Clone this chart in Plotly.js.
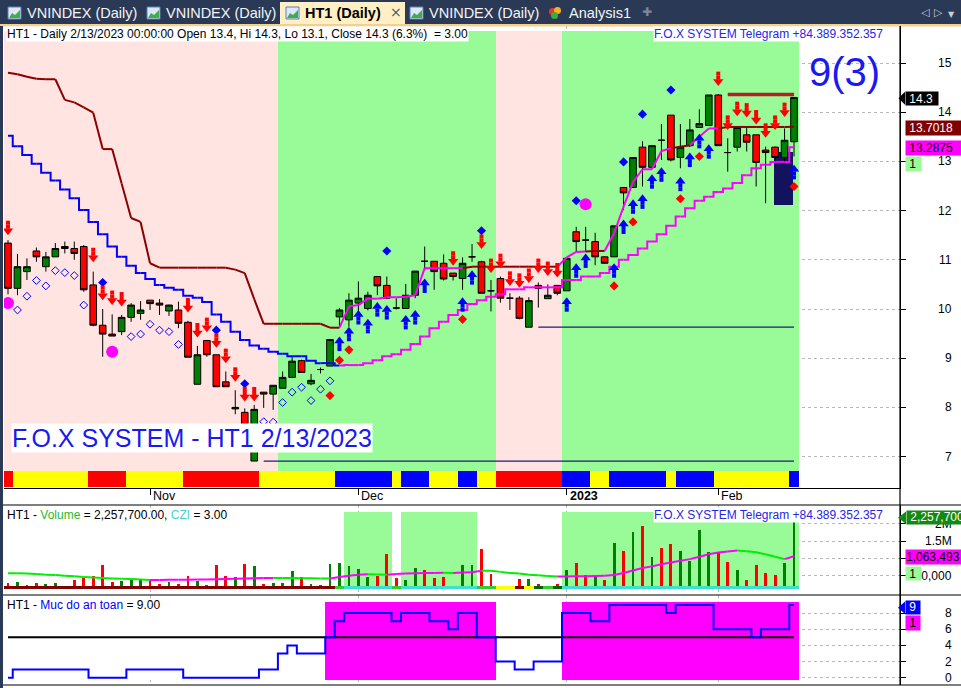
<!DOCTYPE html>
<html>
<head>
<meta charset="utf-8">
<script src="https://cdn.plot.ly/plotly-3.0.1.min.js"></script>
<style>
html,body{margin:0;padding:0;background:#fff;overflow:hidden;}
#chart{width:961px;height:688px;}
</style>
</head>
<body>
<div id="chart"></div>
<script>
// ================= DATA =================
const dates = ['2022-10-11','2022-10-12','2022-10-13','2022-10-14','2022-10-17','2022-10-18','2022-10-19','2022-10-20','2022-10-21','2022-10-24','2022-10-25','2022-10-26','2022-10-27','2022-10-28','2022-10-31',
'2022-11-01','2022-11-02','2022-11-03','2022-11-04','2022-11-07','2022-11-08','2022-11-09','2022-11-10','2022-11-11','2022-11-14','2022-11-15','2022-11-16','2022-11-17','2022-11-18','2022-11-21','2022-11-22','2022-11-23','2022-11-24','2022-11-25','2022-11-28','2022-11-29','2022-11-30',
'2022-12-01','2022-12-02','2022-12-05','2022-12-06','2022-12-07','2022-12-08','2022-12-09','2022-12-12','2022-12-13','2022-12-14','2022-12-15','2022-12-16','2022-12-19','2022-12-20','2022-12-21','2022-12-22','2022-12-23','2022-12-26','2022-12-27','2022-12-28','2022-12-29','2022-12-30',
'2023-01-03','2023-01-04','2023-01-05','2023-01-06','2023-01-09','2023-01-10','2023-01-11','2023-01-12','2023-01-13','2023-01-16','2023-01-17','2023-01-18','2023-01-19','2023-01-27','2023-01-30','2023-01-31',
'2023-02-01','2023-02-02','2023-02-03','2023-02-06','2023-02-07','2023-02-08','2023-02-09','2023-02-10','2023-02-13'];

const openP = [11.34,10.42,10.76,11.18,10.86,11.06,11.27,11.23,11.27,10.49,
9.67,9.49,9.54,9.83,9.91,10.18,10.12,9.96,9.98,9.73,
8.47,9.36,9.07,8.52,7.97,7.90,6.91,8.31,8.27,8.39,
8.61,8.95,8.48,8.77,8.84,9.84,9.78,10.12,10.01,10.66,
10.48,10.02,10.01,10.28,10.97,10.97,10.93,10.73,10.62,11.06,
10.96,10.37,10.62,10.22,10.22,9.63,10.48,10.21,10.48,10.37,
11.57,11.40,11.37,11.06,11.06,12.47,12.47,13.29,12.88,13.43,
13.94,13.08,13.32,13.69,13.73,14.35,13.18,13.29,13.54,13.54,
13.23,13.29,13.08,13.40];
const highP = [11.40,11.12,11.03,11.25,11.16,11.34,11.37,11.37,11.30,10.76,
10.00,9.89,9.88,10.12,10.16,10.18,10.20,10.09,10.15,9.76,
9.25,9.36,9.07,8.73,8.35,7.98,8.05,8.31,8.45,8.73,
9.04,8.97,8.68,8.81,9.38,10.02,10.32,10.56,10.35,10.66,
10.66,10.22,10.51,10.77,11.27,10.97,11.11,10.73,11.05,11.32,
10.98,10.59,10.66,10.32,10.26,10.24,10.54,10.50,10.48,11.03,
11.67,11.67,11.55,11.07,11.69,12.47,13.08,13.41,13.32,13.76,
13.94,13.76,13.86,14.06,14.35,14.37,13.47,13.72,13.71,13.54,
13.30,13.30,13.67,14.30];
const lowP = [10.30,10.28,10.59,10.96,10.76,11.06,11.13,11.00,10.35,9.65,
9.03,9.45,9.47,9.74,9.78,9.98,9.88,9.86,9.61,9.02,
8.47,9.03,8.42,8.42,7.86,7.30,6.91,7.99,7.95,8.39,
8.61,8.70,8.45,8.69,8.84,9.64,9.64,9.95,9.97,10.28,
10.20,9.99,10.01,10.22,10.78,10.39,10.58,10.58,10.39,10.96,
10.32,9.95,10.13,9.98,9.79,9.63,10.03,10.21,10.28,10.37,
11.16,11.16,10.89,10.92,11.06,12.01,12.47,12.49,12.88,13.03,
13.00,12.86,13.29,13.69,13.73,13.32,12.79,13.20,13.20,12.49,
12.15,13.00,13.00,13.10];
const closeP = [10.42,10.86,10.86,11.06,11.06,11.23,11.23,11.13,10.39,9.67,
9.49,9.45,9.83,10.08,9.98,10.11,10.08,10.08,9.71,9.02,
9.07,9.07,8.42,8.42,8.00,7.55,7.96,8.27,8.45,8.61,
8.94,8.71,8.55,8.77,9.38,9.98,10.18,10.22,10.28,10.47,
10.22,10.02,10.28,10.77,10.97,10.76,10.61,10.66,10.93,11.06,
10.32,10.37,10.22,10.22,9.81,10.17,10.42,10.28,10.32,11.03,
11.37,11.40,11.06,10.93,11.69,12.36,13.08,12.88,13.32,13.43,
13.03,13.29,13.64,13.77,14.35,13.32,13.18,13.69,13.39,12.98,
13.18,13.08,13.43,14.30];

// upper trailing line (dark red / magenta) and lower trailing line (blue / magenta)
const lineA = [14.80,14.77,14.72,14.68,14.67,14.67,14.25,14.20,14.10,13.99,
13.25,13.25,12.55,11.85,11.77,10.93,10.84,10.84,10.84,10.84,
10.84,10.84,10.84,10.84,10.80,10.73,10.20,9.70,9.70,9.70,
9.70,9.70,9.70,9.70,9.62,9.62,10.05,10.08,10.21,10.21,
10.24,10.24,10.25,10.28,10.83,10.83,10.83,10.83,10.83,10.86,
10.86,10.86,10.86,10.86,10.86,10.86,10.86,10.86,10.86,11.05,
11.16,11.17,11.18,11.18,11.54,12.08,12.58,12.84,12.84,13.21,
13.27,13.30,13.33,13.50,13.67,13.67,13.70,13.70,13.70,13.70,
13.70,13.70,13.70,13.7018];
const lineAColorRuns = [['d',36],['m',13],['d',10],['m',3],['d',2],['m',7],['d',2],['m',3],['d',8]];
const lineB = [13.52,13.31,13.13,12.95,12.77,12.61,12.43,12.25,12.01,11.77,
11.52,11.27,11.06,10.88,10.73,10.61,10.49,10.43,10.39,10.27,
10.23,10.14,9.89,9.74,9.54,9.37,9.26,9.19,9.13,9.09,
9.04,9.04,8.95,8.90,8.90,8.85,8.86,8.86,8.90,8.96,
9.04,9.08,9.17,9.29,9.44,9.61,9.74,9.88,9.98,10.10,
10.18,10.25,10.30,10.40,10.40,10.44,10.44,10.44,10.44,10.59,
10.59,10.66,10.66,10.73,10.86,11.00,11.10,11.23,11.37,11.52,
11.69,11.88,12.05,12.20,12.28,12.38,12.45,12.56,12.72,12.86,
12.93,12.99,12.99,13.2875];
const lineBColorRuns = [['b',36],['m',48]];

// background regimes / ribbons (run-length coded per bar)
const mainRegimeRuns = [['P',29],['G',23],['P',7],['G',25]];
const ribbonRuns = [['R',1],['Y',8],['R',4],['Y',6],['R',8],['Y',8],['B',6],['Y',1],['B',3],['Y',3],['B',2],['Y',2],['R',7],['B',3],['Y',2],['B',6],['Y',1],['B',4],['Y',8],['B',1]];
const volZoneRuns = [['0',36],['1',5],['0',1],['1',8],['0',9],['1',25]];
const volStripRuns = [['D',35],['L',1],['T',5],['L',1],['T',8],['L',2],['Y',2],['D',1],['Y',1],['G',1],['L',1],['G',1],['T',25]];
const safeZoneRuns = [['0',34],['1',18],['0',7],['1',25]];

// volume
const volume = [280000,320000,220000,280000,260000,280000,150000,375000,420000,490000,
810000,320000,355000,375000,410000,375000,260000,320000,260000,490000,
340000,230000,810000,490000,450000,840000,780000,260000,300000,280000,
640000,450000,260000,220000,840000,880000,780000,690000,450000,490000,
1130000,420000,360000,720000,670000,430000,470000,150000,810000,800000,
1280000,550000,200000,150000,400000,400000,260000,150000,260000,665000,
880000,510000,490000,375000,1440000,1220000,1770000,1940000,1030000,1300000,
1420000,1220000,930000,1830000,1180000,1200000,900000,665000,375000,810000,
590000,510000,880000,2060000];
const volColor = 'rggrggrrrr'+'rrgggrrgrr'+'grrrgrgrgg'+'grgggggggr'+'rrggrrrrgg'+'rrrrrgrgrg'+'rrgrgrgrgr'+'rggggrrgrr'+'rrgg';
const volMA = [570000,570000,560000,550000,530000,520000,500000,480000,460000,450000,
430000,420000,410000,400000,390000,375000,377000,380000,382000,385000,
388000,390000,395000,400000,410000,420000,425000,430000,435000,433000,
430000,428000,425000,420000,418000,460000,500000,530000,540000,535000,
530000,550000,560000,570000,575000,580000,585000,580000,590000,600000,
645000,640000,610000,580000,560000,530000,510000,490000,475000,478000,
480000,485000,490000,500000,520000,580000,650000,720000,770000,830000,
880000,930000,980000,1050000,1120000,1170000,1200000,1230000,1210000,1180000,
1120000,1050000,980000,1063493];

// "Muc do an toan" (safety level)
const safety = [0,1,1,1,1,1,1,1,1,0,
0,0,0,1,1,1,1,1,1,0,
0,0,0,0,0,0,0,1,1,3,
4,3,3,3,5,7,8,8,8,8,
8,7,8,8,8,7,7,6,8,8,
5,5,2,2,1,1,2,2,2,8,
8,8,7,7,9,9,9,9,9,9,
8,9,9,9,9,6,6,6,6,5,
6,6,6,9];
const safetyThreshold = 5;

// signal markers (bar index, price)
const sellArrowX = [0,9,10,11,12,19,20,21,22,23,24,25,26,47,50,51,52,53,54,55,56,57,58,75,76,77,78,79,80,81,82];
const sellArrowY = [11.50,10.95,10.18,10.08,10.05,9.93,9.42,9.53,9.21,8.90,8.52,8.12,8.12,10.88,11.22,10.73,10.83,10.47,10.43,10.53,10.73,10.67,10.64,14.53,13.64,13.92,13.89,13.75,13.48,13.64,13.90];
const buyArrowX = [35,36,37,38,39,40,42,43,44,48,49,59,60,61,64,65,66,67,68,69,71,72,73,74,83];
const buyArrowY = [9.44,9.64,9.98,9.80,10.14,10.08,9.88,9.98,10.62,10.24,10.79,10.24,10.93,11.13,10.93,11.82,12.23,12.33,12.74,12.88,12.69,13.18,13.56,13.35,12.93];
const blueDotX = [10,22,25,40,50,60,65,67,70];
const blueDotY = [10.54,9.57,8.48,11.18,11.59,12.20,12.99,13.96,14.45];
const redDotX = [26,34,35,36,48,64,66,71,73,83];
const redDotY = [6.30,8.24,8.96,9.17,9.79,10.47,11.77,12.24,13.10,12.49];
const hollowX = [1,2,3,4,5,6,7,8,13,14,15,16,17,18,27,28,29,30,31,32,33,34];
const hollowY = [9.98,10.26,10.58,10.47,10.78,10.74,10.68,10.08,9.44,9.49,9.69,9.57,9.54,9.28,7.71,7.70,8.10,8.31,8.41,8.14,8.37,8.54];
const circleX = [0,11,61];
const circleY = [10.12,9.13,12.13];

// horizontal levels
const resistX = [76,83], resistY = [14.36,14.36];
const supportAX = [56,83], supportAY = [9.63,9.63];
const supportBX = [27,83], supportBY = [6.91,6.91];
const zoneX = [80.9,82.85], zoneY = [12.11,13.20];

// axis ticks (the 1,000,000 label is hidden behind the value box in the reference)
const priceTicks = [7,8,9,10,11,12,13,14,15];
const volTicks = [500000,1000000,1500000,2000000];
const volTickText = ['500,000',null,'1.5M','2M'];
const safeTicks = [0,2,4,6,8];

// ================= helpers =================
const N = dates.length;
function rle(r){ const o=[]; r.forEach(([c,n])=>{ for(let k=0;k<n;k++) o.push(c); }); return o; }
const lineAColor = rle(lineAColorRuns), lineBColor = rle(lineBColorRuns);
const mainRegime = rle(mainRegimeRuns), ribbon = rle(ribbonRuns), volZone = rle(volZoneRuns), volStrip = rle(volStripRuns), safeZone = rle(safeZoneRuns);
[openP,highP,lowP,closeP,lineA,lineB,volume,volMA,safety,lineAColor,lineBColor,mainRegime,ribbon,volZone,volStrip,safeZone,volColor.split('')].forEach((a,k)=>{ if(a.length!==N) throw new Error('length mismatch '+k+': '+a.length); });
const idx = dates.map((d,i)=>i);

const W=961, H=688;
const xP = px => px/W, yP = px => 1 - px/H;
const MAIN_T=26, MAIN_B=488;
const priceRange=[6.362,15.752], volRange=[-61000,2551000], safeRange=[-0.903,10.235], xRange=[-0.422,94.19];
const PPX = (priceRange[1]-priceRange[0])/(MAIN_B-MAIN_T);

function runs(codes){ const out=[]; let s=0; for(let i=1;i<=codes.length;i++){ if(i===codes.length||codes[i]!==codes[s]){ out.push({c:codes[s],a:s,b:i-1}); s=i; } } return out; }
function runBars(codes,cmap,lo,hi,yaxis){
  const r = runs(codes).filter(q=>cmap[q.c]);
  return {type:'bar',xaxis:'x',yaxis:yaxis,x:r.map(q=>(q.a+q.b)/2),width:r.map(q=>q.b-q.a+1),base:r.map(()=>lo),y:r.map(()=>hi-lo),
    marker:{color:r.map(q=>cmap[q.c]),line:{width:0}},hoverinfo:'skip',showlegend:false};
}
function segLines(ys,cols,cmap,shape,width,yaxis){
  const g={};
  for(let i=1;i<ys.length;i++){ const c=cols[i]; if(!g[c]) g[c]={x:[],y:[]}; g[c].x.push(i-1,i,null); g[c].y.push(ys[i-1],ys[i],null); }
  return Object.keys(g).map(c=>({type:'scatter',mode:'lines',xaxis:'x',yaxis:yaxis,x:g[c].x,y:g[c].y,line:{color:cmap[c],width:width,shape:shape},hoverinfo:'skip',showlegend:false}));
}
function mk(x,y,sym,size,color,extra){ return Object.assign({type:'scatter',mode:'markers',xaxis:'x',yaxis:'y',x:x,y:y,marker:{symbol:sym,size:size,color:color,line:{width:0}},hoverinfo:'skip',showlegend:false},extra||{}); }

// ================= traces =================
const traces = [];
traces.push(runBars(mainRegime,{P:'#FFE4E1',G:'#98FB98'},6.38,15.65,'y'));
traces.push(runBars(ribbon,{R:'#FF0000',Y:'#FFFF00',B:'#0000FF'},6.382,6.707,'y'));
traces.push({type:'bar',xaxis:'x',yaxis:'y',x:[(zoneX[0]+zoneX[1])/2],width:[zoneX[1]-zoneX[0]],base:[zoneY[0]],y:[zoneY[1]-zoneY[0]],marker:{color:'#12125E',line:{width:0}},hoverinfo:'skip',showlegend:false});
traces.push({type:'bar',xaxis:'x',yaxis:'y3',x:[(N-1)/2],width:[N],base:[104000],y:[2244000],marker:{color:'#ffffff',line:{width:0}},hoverinfo:'skip',showlegend:false});
traces.push(runBars(volZone,{'1':'#98FB98'},104000,2348000,'y3'));
traces.push({type:'bar',xaxis:'x',yaxis:'y3',x:idx,base:104000,y:volume.map(v=>v-104000),width:0.3,
  marker:{color:volColor.split('').map(c=>c==='g'?'#008000':'#FF0000'),line:{width:0}},hoverinfo:'skip',showlegend:false});
traces.push(runBars(volStrip,{D:'#800000',L:'#32CD32',T:'#40E0D0',Y:'#FFFF00',G:'#006400'},104000,200000,'y3'));
traces.push({type:'bar',xaxis:'x',yaxis:'y4',x:[(N-1)/2],width:[N],base:[-0.28],y:[9.68],marker:{color:'#ffffff',line:{width:0}},hoverinfo:'skip',showlegend:false});
traces.push(runBars(safeZone,{'1':'#FF00FF'},-0.28,9.4,'y4'));
traces.push({type:'candlestick',xaxis:'x',yaxis:'y',x:idx,open:openP,high:highP,low:lowP,close:closeP,
  increasing:{line:{color:'#000000',width:1},fillcolor:'#008000'},decreasing:{line:{color:'#000000',width:1},fillcolor:'#FF0000'},
  whiskerwidth:0,hoverinfo:'skip',showlegend:false});
segLines(lineB,lineBColor,{b:'#0000FF',m:'#FF00FF'},'hvh',2,'y').forEach(t=>traces.push(t));
segLines(lineA,lineAColor,{d:'#8B0000',m:'#FF00FF'},'linear',2,'y').forEach(t=>traces.push(t));
traces.push({type:'scatter',mode:'lines',xaxis:'x',yaxis:'y',x:supportAX,y:supportAY,line:{color:'#1C1C7A',width:1.3},hoverinfo:'skip',showlegend:false});
traces.push({type:'scatter',mode:'lines',xaxis:'x',yaxis:'y',x:supportBX,y:supportBY,line:{color:'#1C1C7A',width:1.3},hoverinfo:'skip',showlegend:false});
traces.push({type:'scatter',mode:'lines',xaxis:'x',yaxis:'y',x:resistX,y:resistY,line:{color:'#B22222',width:3.5},hoverinfo:'skip',showlegend:false});
const volMAcol = volMA.map((v,i)=> i>0 && v>volMA[i-1] ? 'u':'d');
segLines(volMA,volMAcol,{u:'#FF00FF',d:'#00EE00'},'linear',2,'y3').forEach(t=>traces.push(t));
traces.push({type:'scatter',mode:'lines',xaxis:'x',yaxis:'y4',x:idx,y:idx.map(()=>safetyThreshold),line:{color:'#000000',width:2},hoverinfo:'skip',showlegend:false});
traces.push({type:'scatter',mode:'lines',xaxis:'x',yaxis:'y4',x:idx,y:safety,line:{color:'#0000FF',width:2,shape:'hvh'},hoverinfo:'skip',showlegend:false});
traces.push(mk(hollowX,hollowY,'diamond-open',6,'#0000FF',{marker:{symbol:'diamond-open',size:6,color:'#0000FF',line:{width:1,color:'#0000FF'}}}));
traces.push(mk(blueDotX,blueDotY,'diamond',7,'#0000FF'));
traces.push(mk(redDotX,redDotY,'diamond',7,'#FF0000',{cliponaxis:false}));
traces.push(mk(circleX,circleY,'circle',12,'#FF00FF'));
traces.push(mk(sellArrowX,sellArrowY.map(t=>t+4.5*PPX),'triangle-down',9,'#FF0000'));
traces.push(mk(sellArrowX.concat(sellArrowX),sellArrowY.map(t=>t+8.5*PPX).concat(sellArrowY.map(t=>t+12.5*PPX)),'square',4,'#FF0000'));
traces.push(mk(buyArrowX,buyArrowY.map(t=>t-4.5*PPX),'triangle-up',9,'#0000FF'));
traces.push(mk(buyArrowX.concat(buyArrowX),buyArrowY.map(t=>t-8.5*PPX).concat(buyArrowY.map(t=>t-12.5*PPX)),'square',4,'#0000FF'));

// ================= layout =================
const FONT = 'Liberation Sans, Arial, sans-serif';
const monthNames=['Jan','Feb','Mar','Apr','May','Jun','Jul','Aug','Sep','Oct','Nov','Dec'];
const monthTicks=[], monthText=[];
for(let i=1;i<N;i++){ const m=+dates[i].slice(5,7), pm=+dates[i-1].slice(5,7); if(m!==pm){ monthTicks.push(i); monthText.push(m===1?'<b>'+dates[i].slice(0,4)+'</b>':monthNames[m-1]); } }

const gridY = {showgrid:true,gridcolor:'#b8b8b8',griddash:'dot',gridwidth:1,zeroline:false,side:'right',anchor:'x',showline:true,linecolor:'#000',linewidth:1,ticks:'outside',ticklen:5,tickcolor:'#000',showticklabels:false,fixedrange:true};

const ann = [];
function A(text,xpx,ypx,o){ ann.push(Object.assign({text:text,xref:'paper',yref:'paper',x:xP(xpx),y:yP(ypx),xanchor:'left',yanchor:'middle',showarrow:false,font:{family:FONT,size:12,color:'#000'},borderpad:0},o||{})); }

A('VNINDEX (Daily)',26,13,{font:{family:FONT,size:14.5,color:'#F4F4F4'}});
A('VNINDEX (Daily)',165,13,{font:{family:FONT,size:14.5,color:'#F4F4F4'}});
A('<b>HT1 (Daily)</b>',304,13,{font:{family:FONT,size:14.5,color:'#000'}});
A('×',389,12,{font:{family:'DejaVu Sans',size:14,color:'#555'}});
A('VNINDEX (Daily)',428,13,{font:{family:FONT,size:14.5,color:'#F4F4F4'}});
A('Analysis1',568,13,{font:{family:FONT,size:14.5,color:'#F4F4F4'}});
A('✚',641,12,{font:{family:'DejaVu Sans',size:12,color:'#7C879C'}});
A('◁',920,12,{font:{family:'DejaVu Sans',size:11,color:'#C9CED8'}});
A('▷',933,12,{font:{family:'DejaVu Sans',size:11,color:'#C9CED8'}});
A('▼',947,14,{font:{family:'DejaVu Sans',size:8,color:'#C9CED8'}});

A('HT1 - Daily 2/13/2023 00:00:00 Open 13.4, Hi 14.3, Lo 13.1, Close 14.3 (6.3%)  = 3.00',6,33.5,{bgcolor:'#ffffff'});
A('F.O.X SYSTEM Telegram +84.389.352.357',653,33.5,{bgcolor:'#ffffff',font:{family:FONT,size:12,color:'#2626E6'}});
A('9(3)',808,72,{font:{family:FONT,size:40,color:'#1A1AF0'}});
A('F.O.X SYSTEM - HT1 2/13/2023',11,437.5,{bgcolor:'#ffffff',font:{family:FONT,size:25,color:'#1A1AF0'}});
A('HT1 - <span style="color:#2DB82D">Volume</span> = 2,257,700.00, <span style="color:#48D1CC">CZI</span> = 3.00',6,515);
A('F.O.X SYSTEM Telegram +84.389.352.357',653,515,{bgcolor:'#ffffff',font:{family:FONT,size:12,color:'#2626E6'}});
A('HT1 - <span style="color:#0000FF">Muc do an toan</span> = 9.00',6,604.5);

monthTicks.forEach((t,k)=>ann.push({text:monthText[k],xref:'x',yref:'paper',x:t,y:yP(496),xanchor:'left',yanchor:'middle',xshift:1,showarrow:false,font:{family:FONT,size:12.5,color:'#000'}}));

priceTicks.forEach(v=>ann.push({text:String(v),xref:'paper',yref:'y',x:xP(954),y:v,xanchor:'right',yanchor:'middle',showarrow:false,font:{family:FONT,size:12,color:'#000'}}));
volTicks.forEach((v,k)=>{ if(volTickText[k]) ann.push({text:volTickText[k],xref:'paper',yref:'y3',x:xP(954),y:v,xanchor:'right',yanchor:'middle',showarrow:false,font:{family:FONT,size:12,color:'#000'}}); });
safeTicks.forEach(v=>ann.push({text:String(v),xref:'paper',yref:'y4',x:xP(954),y:v,xanchor:'right',yanchor:'middle',showarrow:false,font:{family:FONT,size:12,color:'#000'}}));

function box(text,x0,x1,yc,h,bg,fg){ A(text,x0,yc,{width:x1-x0,height:h,align:'left',bgcolor:bg,font:{family:FONT,size:12,color:fg}}); }
box(' 14.3',905,937,98.3,13,'#000000','#ffffff');
box(' 13.7018',905,960,127.5,14,'#800000','#ffffff');
box(' 13.2875',905,960,147.5,14,'#FF00FF','#000000');
box(' 1',905,920,163.5,14,'#98FB98','#000000');
box(' 2,257,700',906,962,517.8,12.5,'#138A13','#ffffff');
box('1,063,493',905,962,557,14,'#FF00FF','#000000');
box(' 1',905,920,573,13,'#98FB98','#000000');
box(' 9',905,919,607.8,12.5,'#0000FF','#ffffff');
box(' 1',905,919,622.5,14,'#FF00FF','#000000');

const shapes = [];
function R(x0,y0,x1,y1,fill,layer,line){ shapes.push({type:'rect',xref:'paper',yref:'paper',x0:xP(x0),x1:xP(x1),y0:yP(y0),y1:yP(y1),fillcolor:fill,line:line||{width:0},layer:layer||'below'}); }
function L(x0,y0,x1,y1,color,w){ shapes.push({type:'line',xref:'paper',yref:'paper',x0:xP(x0),x1:xP(x1),y0:yP(y0),y1:yP(y1),line:{color:color,width:w},layer:'above'}); }
function T(tipx,cy,basex,hh,fill){ shapes.push({type:'path',xref:'paper',yref:'paper',path:`M${xP(tipx)},${yP(cy)} L${xP(basex)},${yP(cy-hh)} L${xP(basex)},${yP(cy+hh)} Z`,fillcolor:fill,line:{width:0},layer:'above'}); }
R(0,0,961,24,'#2A3A56');
R(280,2,405,26,'#FFEFC4');
R(0,24,961,26.5,'#F5D08C');
R(0,26,3,688,'#2A3A56');
[8,147,286,410].forEach(x=>{ R(x,7,x+13,19,'#DDE8F6','below',{color:'#5B7FB5',width:1}); shapes.push({type:'path',xref:'paper',yref:'paper',path:`M${xP(x+1)},${yP(18)} L${xP(x+4)},${yP(13)} L${xP(x+7)},${yP(15)} L${xP(x+12)},${yP(10)} L${xP(x+12)},${yP(18)} Z`,fillcolor:'#3FAE49',line:{width:0},layer:'below'}); });
shapes.push({type:'circle',xref:'paper',yref:'paper',x0:xP(549),x1:xP(556),y0:yP(15),y1:yP(8),fillcolor:'#E23B2E',line:{width:0},layer:'below'});
shapes.push({type:'circle',xref:'paper',yref:'paper',x0:xP(554),x1:xP(561),y0:yP(14),y1:yP(7),fillcolor:'#F2B31B',line:{width:0},layer:'below'});
shapes.push({type:'circle',xref:'paper',yref:'paper',x0:xP(551),x1:xP(558),y0:yP(19),y1:yP(12),fillcolor:'#3DAE3B',line:{width:0},layer:'below'});
L(3,505,961,505,'#000',1.2);
L(3,595,961,595,'#000',1.2);
L(3,685,961,685,'#000',1.2);
L(900,26,900,685,'#000',1.2);
T(898.5,98.3,905,6.5,'#000000');
T(898,517.8,906,6.2,'#138A13');
T(898,607.8,905,6.2,'#0000FF');

const layout = {
  width:W,height:H,margin:{l:0,r:0,t:0,b:0},paper_bgcolor:'#ffffff',plot_bgcolor:'rgba(0,0,0,0)',
  showlegend:false,barmode:'overlay',bargap:0,boxgap:0.3,boxgroupgap:0,dragmode:false,hovermode:false,
  font:{family:FONT,size:12,color:'#000'},
  xaxis:{domain:[xP(4),xP(900)],range:xRange,type:'linear',anchor:'y',showgrid:true,gridcolor:'#b8b8b8',griddash:'dot',gridwidth:1,zeroline:false,
    tickvals:monthTicks,ticks:'outside',ticklen:6,tickcolor:'#000',showticklabels:false,showline:true,linecolor:'#000',linewidth:1,
    rangeslider:{visible:false},fixedrange:true},
  yaxis:Object.assign({},gridY,{domain:[yP(MAIN_B),yP(MAIN_T)],range:priceRange,tickvals:priceTicks}),
  yaxis3:Object.assign({},gridY,{domain:[yP(595),yP(505)],range:volRange,tickvals:volTicks}),
  yaxis4:Object.assign({},gridY,{domain:[yP(685),yP(595)],range:safeRange,tickvals:safeTicks}),
  annotations:ann,shapes:shapes
};
Plotly.newPlot('chart',traces,layout,{displayModeBar:false,staticPlot:true});
</script>
</body>
</html>
